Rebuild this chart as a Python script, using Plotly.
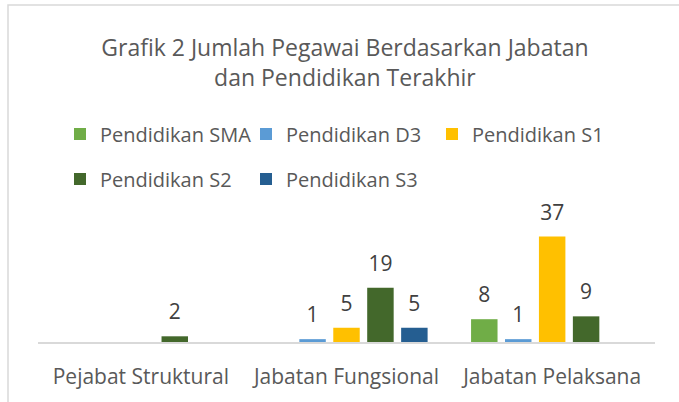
import plotly.graph_objects as go

# data
categories = ["Pejabat Struktural", "Jabatan Fungsional", "Jabatan Pelaksana"]
series_names = ["Pendidikan SMA", "Pendidikan D3", "Pendidikan S1", "Pendidikan S2", "Pendidikan S3"]
sma = [None, None, 8]
d3 = [None, 1, 1]
s1 = [None, 5, 37]
s2 = [2, 19, 9]
s3 = [None, 5, None]

colors = ["#70AD47", "#5B9BD5", "#FFC000", "#43682B", "#255E91"]
values = [sma, d3, s1, s2, s3]
legends = ["legend", "legend", "legend", "legend2", "legend2"]

FONT = "Open Sans"

fig = go.Figure()
for i, (name, vals, col, lg) in enumerate(zip(series_names, values, colors, legends)):
    fig.add_trace(go.Bar(
        x=categories, y=vals, name=name,
        marker=dict(color=col, line=dict(width=0)),
        offsetgroup=str(i), legend=lg,
    ))
# value labels: invisible markers, text on top, grouped like the bars
for i, (name, vals) in enumerate(zip(series_names, values)):
    fig.add_trace(go.Scatter(
        x=categories, y=vals, mode="markers+text", showlegend=False,
        text=[v if v is not None else "" for v in vals],
        textposition="top center",
        textfont=dict(size=21, color="#404040", family=FONT),
        marker=dict(size=17, opacity=0),
        offsetgroup=str(i), cliponaxis=False, hoverinfo="skip",
    ))

# plot area: x 38..655, y 228..342 (px)
L, R, T, B = 38, 24, 228, 60
pw = 679 - L - R
ph = 402 - T - B

legend_common = dict(
    orientation="h", xref="container", yref="container",
    xanchor="left", yanchor="middle",
    entrywidth=141, entrywidthmode="pixels", itemwidth=30,
    font=dict(size=20, color="#595959", family=FONT),
    bgcolor="rgba(0,0,0,0)", traceorder="normal",
    itemclick=False, itemdoubleclick=False,
)

fig.update_layout(
    width=679, height=402,
    margin=dict(l=L, r=R, t=T, b=B),
    paper_bgcolor="white", plot_bgcolor="white",
    font=dict(family=FONT, color="#595959"),
    title=dict(
        text="Grafik 2 Jumlah Pegawai Berdasarkan Jabatan<br>dan Pendidikan Terakhir",
        x=0.508, xanchor="center", xref="container",
        y=1 - 56 / 402, yanchor="middle", yref="container",
        font=dict(size=23, color="#595959", family=FONT),
    ),
    barmode="group", bargap=0.175, bargroupgap=0.22,
    scattermode="group", scattergap=0.175,
    legend=dict(x=60 / 679, y=1 - 134 / 402, **legend_common),
    legend2=dict(x=60 / 679, y=1 - 179 / 402, **legend_common),
    xaxis=dict(
        categoryorder="array", categoryarray=categories,
        showline=True, linecolor="#D9D9D9", linewidth=1.5,
        ticks="", showgrid=False, zeroline=False, ticklabelstandoff=15,
        tickfont=dict(size=21, color="#595959", family=FONT),
    ),
    yaxis=dict(range=[0, 40], visible=False, showgrid=False, zeroline=False),
    shapes=[dict(
        type="rect", xref="paper", yref="paper",
        x0=(8 - L) / pw, x1=(700 - L) / pw,
        y0=(342 - 420) / ph, y1=(342 - 5) / ph,
        line=dict(color="#D9D9D9", width=1.5), fillcolor="rgba(0,0,0,0)",
        layer="below",
    )],
)

fig.write_html("out.html", config={"displayModeBar": False},
               post_script="document.body.style.margin='0';")
